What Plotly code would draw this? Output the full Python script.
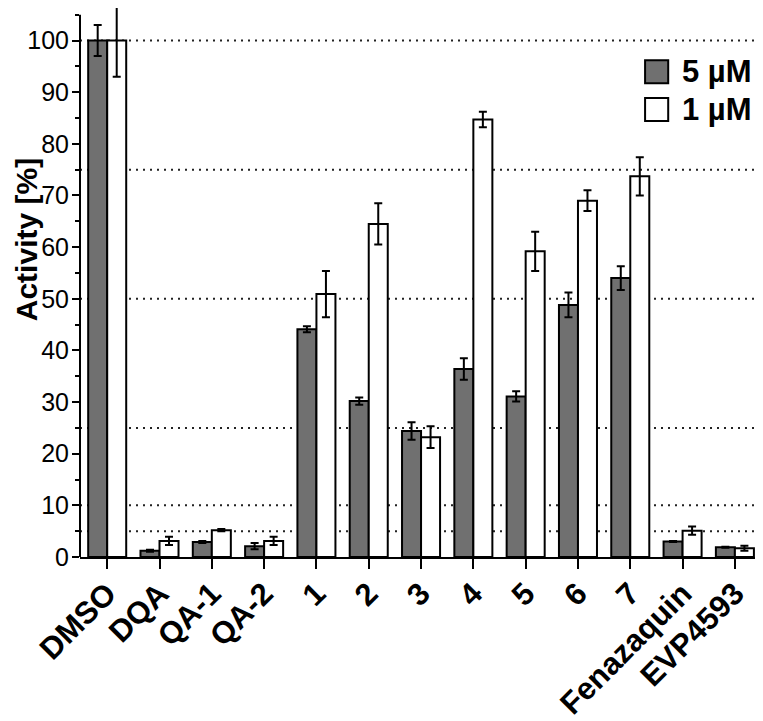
import plotly.graph_objects as go

# data
compounds = ["DMSO", "DQA", "QA-1", "QA-2", "1", "2", "3", "4", "5", "6", "7",
             "Fenazaquin", "EVP4593"]
act_5uM = [100, 1.2, 2.9, 2.1, 44.1, 30.2, 24.4, 36.4, 31.1, 48.8, 54.0, 3.0, 1.9]
err_5uM = [3.0, 0.2, 0.2, 0.6, 0.6, 0.7, 1.7, 2.1, 1.0, 2.4, 2.3, 0.1, 0.1]
act_1uM = [100, 3.1, 5.2, 3.1, 50.9, 64.5, 23.2, 84.7, 59.2, 69.0, 73.7, 5.1, 1.7]
err_1uM = [7.0, 0.8, 0.2, 0.8, 4.5, 4.0, 2.1, 1.5, 3.8, 2.0, 3.7, 0.8, 0.5]
series_names = ["5 µM", "1 µM"]
ref_lines = [5, 10, 25, 50, 75, 100]

FONT = "Liberation Sans"
GRAY = "#707070"

fig = go.Figure()
fig.add_trace(go.Bar(x=compounds, y=act_5uM, name=series_names[0],
                     marker=dict(color=GRAY, line=dict(color="black", width=2)),
                     error_y=dict(type="data", array=err_5uM, color="black",
                                  thickness=2, width=4)))
fig.add_trace(go.Bar(x=compounds, y=act_1uM, name=series_names[1],
                     marker=dict(color="white", line=dict(color="black", width=2)),
                     error_y=dict(type="data", array=err_1uM, color="black",
                                  thickness=2, width=4)))

# dotted reference lines
for v in ref_lines:
    fig.add_shape(type="line", xref="paper", x0=0, x1=1, yref="y", y0=v, y1=v,
                  line=dict(color="#222", width=2, dash="2px,5px"), layer="below")

# y axis line stops at 105
fig.add_shape(type="line", xref="paper", x0=0, x1=0, yref="y", y0=0, y1=105,
              line=dict(color="black", width=2))

# manual legend
legend_rows = [(0.884, GRAY), (0.815, "white")]
for (yc, col), name in zip(legend_rows, series_names):
    fig.add_shape(type="rect", xref="paper", yref="paper",
                  x0=0.831, x1=0.865, y0=yc - 0.021, y1=yc + 0.021,
                  fillcolor=col, line=dict(color="black", width=2))
    fig.add_annotation(xref="paper", yref="paper", x=0.882, y=yc, text=name,
                       showarrow=False, xanchor="left", yanchor="middle",
                       font=dict(family=FONT, size=31, color="black", weight="bold"))

fig.add_annotation(xref="paper", yref="paper", x=0, xshift=-54, y=0.577,
                   text="Activity [%]", textangle=-90, showarrow=False,
                   xanchor="center", yanchor="middle", borderpad=0,
                   font=dict(family=FONT, size=30, color="black", weight="bold"))

fig.update_layout(
    width=755, height=713,
    margin=dict(l=72, r=3, t=0, b=164),
    plot_bgcolor="white", paper_bgcolor="white",
    barmode="group", bargap=0.273, bargroupgap=0,
    showlegend=False,
    font=dict(family=FONT, color="black"),
    xaxis=dict(range=[-0.52, 12.48], showline=True, linecolor="black", linewidth=2,
               ticks="outside", ticklen=10, tickwidth=2, tickcolor="black",
               tickangle=-45, showgrid=False, zeroline=False, automargin=False,
               ticklabelstandoff=-6,
               tickfont=dict(family=FONT, size=31, color="black", weight="bold")),
    yaxis=dict(range=[0, 106.3], showline=False, showgrid=False, zeroline=False,
               automargin=False, tickvals=list(range(0, 101, 10)),
               ticks="outside", ticklen=7, tickwidth=2, tickcolor="black",
               ticklabelstandoff=-2,
               minor=dict(tickvals=list(range(5, 106, 10)), ticks="outside",
                          ticklen=4, tickwidth=2, tickcolor="black"),
               tickfont=dict(family=FONT, size=25, color="black")),
)

fig.write_html("out.html")
